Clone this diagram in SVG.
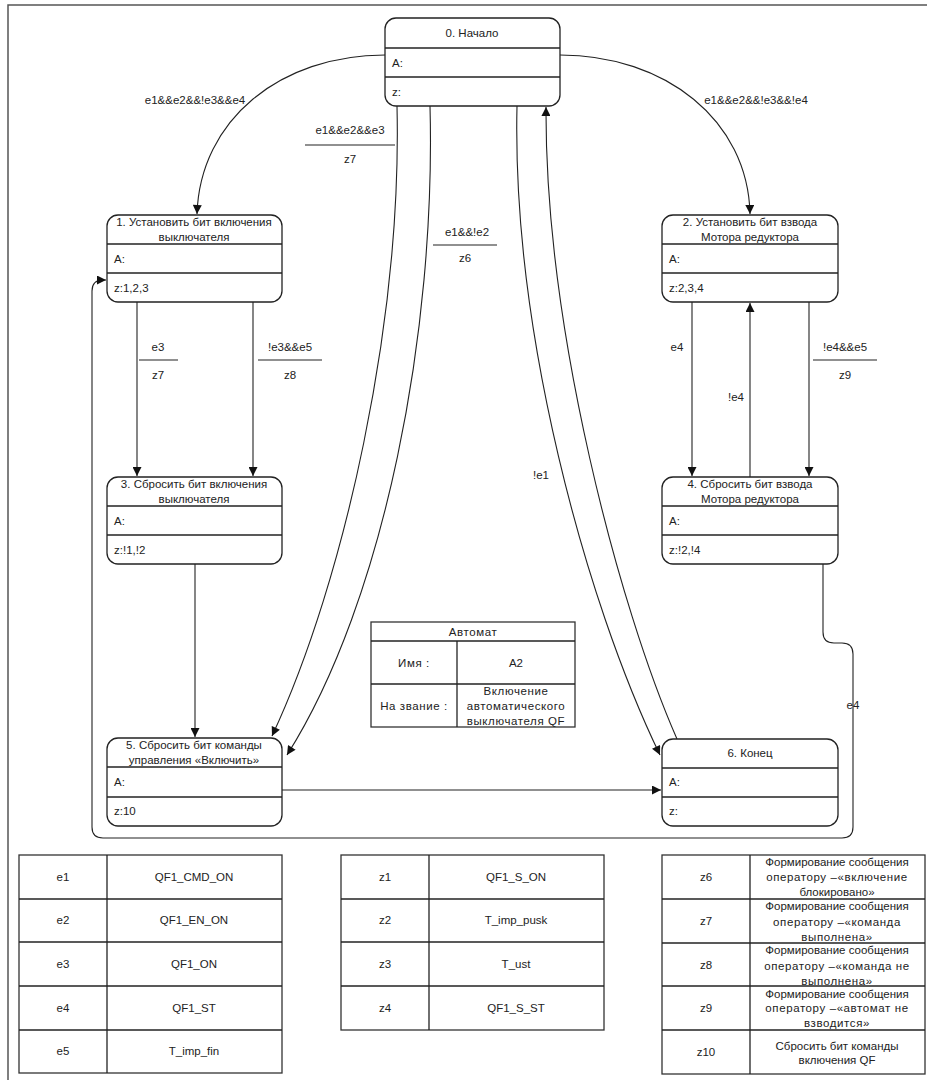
<svg xmlns="http://www.w3.org/2000/svg" width="927" height="1080" viewBox="0 0 927 1080">
<defs>
<style>
.n rect{fill:#fff;stroke:#222;stroke-width:1.3}
.n line,.tb line{stroke:#222;stroke-width:1.3}
.tb rect{fill:#fff;stroke:#333;stroke-width:1.3}
text{font-family:"Liberation Sans",Arial,sans-serif;font-size:11.5px;fill:#222}
.m{text-anchor:middle}
.c path,.c line{fill:none;stroke:#222;stroke-width:1.1}
.fr{stroke:#555;stroke-width:1.5;fill:none}
.ls{letter-spacing:0.6px}
</style>
<marker id="arr" viewBox="0 0 10 10" refX="10" refY="5" markerWidth="10" markerHeight="9" orient="auto" markerUnits="userSpaceOnUse"><path d="M0,0 L10,5 L0,10 z" fill="#111"/></marker>
</defs>
<rect width="927" height="1080" fill="#fff"/>
<path class="fr" d="M8,1080 V5 H927"/>

<g id="connectors" class="c">
<path d="M385,55 C280,55 200,120 197,214" marker-end="url(#arr)"/>
<path d="M560,55 C665,55 748,120 750,214" marker-end="url(#arr)"/>
<path d="M397,106 C402,320 345,580 272,736" marker-end="url(#arr)"/>
<path d="M430,106 C436,330 385,600 287,755" marker-end="url(#arr)"/>
<path d="M517,106 C512,330 585,600 660,755" marker-end="url(#arr)"/>
<path d="M677,739 C620,610 545,330 546,107" marker-end="url(#arr)"/>
<line x1="137" y1="302" x2="137" y2="476" marker-end="url(#arr)"/>
<line x1="253" y1="302" x2="253" y2="476" marker-end="url(#arr)"/>
<line x1="195" y1="564" x2="195" y2="737" marker-end="url(#arr)"/>
<line x1="692" y1="302" x2="692" y2="476" marker-end="url(#arr)"/>
<line x1="750" y1="477" x2="750" y2="303" marker-end="url(#arr)"/>
<line x1="809" y1="302" x2="809" y2="476" marker-end="url(#arr)"/>
<line x1="282" y1="790" x2="661" y2="790" marker-end="url(#arr)"/>
<path d="M823,564 V632 Q823,643 834,643 H842 Q853,643 853,654 V827 Q853,838 842,838 H103 Q92,838 92,827 V291 Q92,280 103,280 H106" marker-end="url(#arr)"/>
<line x1="305" y1="145" x2="395" y2="145"/>
<line x1="433" y1="245" x2="497" y2="245"/>
<line x1="139" y1="360" x2="178" y2="360"/>
<line x1="258" y1="360" x2="322" y2="360"/>
<line x1="813" y1="360" x2="877" y2="360"/>
<text class="m" x="195" y="104">e1&amp;&amp;e2&amp;&amp;!e3&amp;&amp;e4</text>
<text class="m" x="756" y="104">e1&amp;&amp;e2&amp;&amp;!e3&amp;&amp;!e4</text>
<text class="m" x="350" y="134">e1&amp;&amp;e2&amp;&amp;e3</text>
<text class="m" x="350" y="163">z7</text>
<text class="m" x="467" y="236">e1&amp;&amp;!e2</text>
<text class="m" x="465" y="262">z6</text>
<text class="m" x="158" y="351">e3</text>
<text class="m" x="158" y="379">z7</text>
<text class="m" x="290" y="351">!e3&amp;&amp;e5</text>
<text class="m" x="290" y="379">z8</text>
<text class="m" x="677" y="351">e4</text>
<text class="m" x="736" y="401">!e4</text>
<text class="m" x="845" y="351">!e4&amp;&amp;e5</text>
<text class="m" x="845" y="379">z9</text>
<text class="m" x="541" y="479">!e1</text>
<text class="m" x="853" y="709">e4</text>
</g>

<g id="n0" class="n">
<rect x="385" y="18" width="175" height="88" rx="11"/>
<line x1="385" y1="48" x2="560" y2="48"/><line x1="385" y1="77" x2="560" y2="77"/>
<text class="m" x="472" y="37">0. Начало</text>
<text x="392" y="67">A:</text><text x="392" y="96">z:</text>
</g>
<g id="n1" class="n">
<rect x="107" y="215" width="175" height="87" rx="11"/>
<line x1="107" y1="244" x2="282" y2="244"/><line x1="107" y1="273" x2="282" y2="273"/>
<text class="m" x="194" y="226">1. Установить бит включения</text>
<text class="m" x="194" y="241">выключателя</text>
<text x="114" y="263">A:</text><text x="114" y="292">z:1,2,3</text>
</g>
<g id="n2" class="n">
<rect x="662" y="215" width="176" height="87" rx="11"/>
<line x1="662" y1="244" x2="838" y2="244"/><line x1="662" y1="273" x2="838" y2="273"/>
<text class="m" x="750" y="226">2. Установить бит взвода</text>
<text class="m" x="750" y="241">Мотора редуктора</text>
<text x="669" y="263">A:</text><text x="669" y="292">z:2,3,4</text>
</g>
<g id="n3" class="n">
<rect x="107" y="477" width="175" height="87" rx="11"/>
<line x1="107" y1="506" x2="282" y2="506"/><line x1="107" y1="535" x2="282" y2="535"/>
<text class="m" x="194" y="488">3. Сбросить бит включения</text>
<text class="m" x="194" y="503">выключателя</text>
<text x="114" y="525">A:</text><text x="114" y="554">z:!1,!2</text>
</g>
<g id="n4" class="n">
<rect x="662" y="477" width="176" height="87" rx="11"/>
<line x1="662" y1="506" x2="838" y2="506"/><line x1="662" y1="535" x2="838" y2="535"/>
<text class="m" x="750" y="488">4. Сбросить бит взвода</text>
<text class="m" x="750" y="503">Мотора редуктора</text>
<text x="669" y="525">A:</text><text x="669" y="554">z:!2,!4</text>
</g>
<g id="n5" class="n">
<rect x="107" y="738" width="175" height="88" rx="11"/>
<line x1="107" y1="767" x2="282" y2="767"/><line x1="107" y1="797" x2="282" y2="797"/>
<text class="m" x="194" y="749">5. Сбросить бит команды</text>
<text class="m" x="194" y="764">управления «Включить»</text>
<text x="114" y="786">A:</text><text x="114" y="815">z:10</text>
</g>
<g id="n6" class="n">
<rect x="662" y="739" width="176" height="87" rx="11"/>
<line x1="662" y1="768" x2="838" y2="768"/><line x1="662" y1="797" x2="838" y2="797"/>
<text class="m" x="750" y="757">6. Конец</text>
<text x="669" y="786">A:</text><text x="669" y="815">z:</text>
</g>

<g id="automat" class="tb">
<rect x="371" y="622" width="204" height="105"/>
<line x1="371" y1="641" x2="575" y2="641"/>
<line x1="371" y1="684" x2="575" y2="684"/>
<line x1="457" y1="641" x2="457" y2="727"/>
<text class="m ls" x="473" y="636">Автомат</text>
<text class="m ls" x="414" y="667">Имя :</text>
<text class="m" x="516" y="667">A2</text>
<text class="m ls" x="414" y="710">На звание :</text>
<text class="m ls" x="516" y="695">Включение</text>
<text class="m ls" x="516" y="710">автоматического</text>
<text class="m ls" x="516" y="725">выключателя  QF</text>
</g>

<g id="table-e" class="tb">
<rect x="19" y="855" width="263" height="218"/>
<line x1="107" y1="855" x2="107" y2="1073"/>
<line x1="19" y1="899" x2="282" y2="899"/><line x1="19" y1="942" x2="282" y2="942"/>
<line x1="19" y1="986" x2="282" y2="986"/><line x1="19" y1="1030" x2="282" y2="1030"/>
<text class="m" x="63" y="881">e1</text><text class="m" x="194" y="881">QF1_CMD_ON</text>
<text class="m" x="63" y="924">e2</text><text class="m" x="194" y="924">QF1_EN_ON</text>
<text class="m" x="63" y="968">e3</text><text class="m" x="194" y="968">QF1_ON</text>
<text class="m" x="63" y="1012">e4</text><text class="m" x="194" y="1012">QF1_ST</text>
<text class="m" x="63" y="1055">e5</text><text class="m" x="194" y="1055">T_imp_fin</text>
</g>

<g id="table-z" class="tb">
<rect x="341" y="855" width="263" height="175"/>
<line x1="429" y1="855" x2="429" y2="1030"/>
<line x1="341" y1="899" x2="604" y2="899"/><line x1="341" y1="942" x2="604" y2="942"/>
<line x1="341" y1="986" x2="604" y2="986"/>
<text class="m" x="385" y="881">z1</text><text class="m" x="516" y="881">QF1_S_ON</text>
<text class="m" x="385" y="924">z2</text><text class="m" x="516" y="924">T_imp_pusk</text>
<text class="m" x="385" y="968">z3</text><text class="m" x="516" y="968">T_ust</text>
<text class="m" x="385" y="1012">z4</text><text class="m" x="516" y="1012">QF1_S_ST</text>
</g>

<g id="table-z2" class="tb">
<rect x="662" y="855" width="263" height="219"/>
<line x1="750" y1="855" x2="750" y2="1074"/>
<line x1="662" y1="899" x2="925" y2="899"/><line x1="662" y1="943" x2="925" y2="943"/>
<line x1="662" y1="986" x2="925" y2="986"/><line x1="662" y1="1030" x2="925" y2="1030"/>
<text class="m" x="706" y="881">z6</text>
<text class="m" x="837" y="866">Формирование сообщения</text>
<text class="m ls" x="837" y="881">оператору –«включение</text>
<text class="m" x="837" y="896">блокировано»</text>
<text class="m" x="706" y="925">z7</text>
<text class="m" x="837" y="910">Формирование сообщения</text>
<text class="m ls" x="837" y="926">оператору –«команда</text>
<text class="m ls" x="837" y="941">выполнена»</text>
<text class="m" x="706" y="969">z8</text>
<text class="m" x="837" y="954">Формирование сообщения</text>
<text class="m ls" x="837" y="970">оператору –«команда не</text>
<text class="m ls" x="837" y="985">выполнена»</text>
<text class="m" x="706" y="1012">z9</text>
<text class="m" x="837" y="998">Формирование сообщения</text>
<text class="m ls" x="837" y="1012">оператору –«автомат не</text>
<text class="m ls" x="837" y="1027">взводится»</text>
<text class="m" x="706" y="1056">z10</text>
<text class="m" x="837" y="1050">Сбросить бит команды</text>
<text class="m" x="837" y="1064">включения QF</text>
</g>
</svg>
